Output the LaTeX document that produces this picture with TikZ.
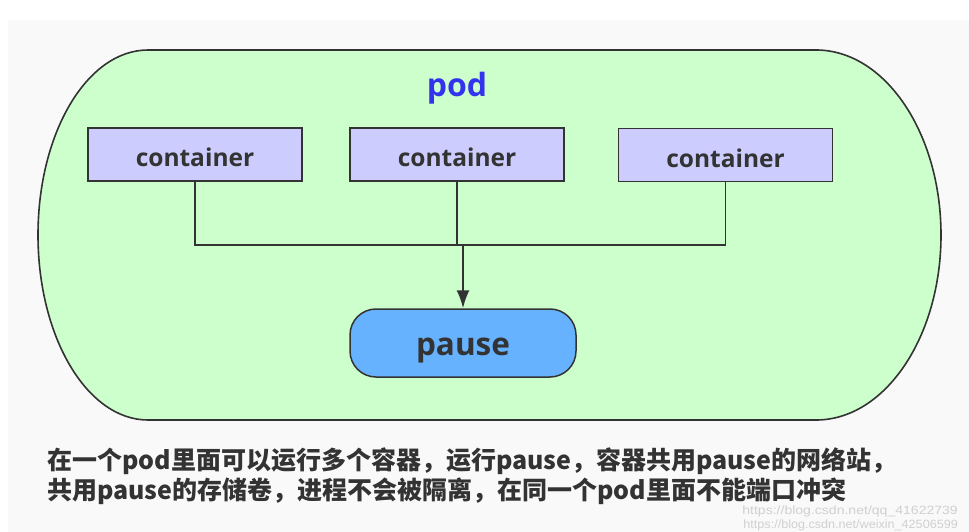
\documentclass[tikz,border=0pt]{standalone}
\usepackage{fontspec}
\setmainfont{Open Sans}
\newfontfamily\cjk{Noto Sans CJK SC}
\newfontfamily\wmfont{Liberation Sans}
\usetikzlibrary{arrows.meta}
\definecolor{bggray}{HTML}{F9F9F9}
\definecolor{podgreen}{HTML}{CCFFCC}
\definecolor{contblue}{HTML}{CCCCFF}
\definecolor{pauseblue}{HTML}{66B2FF}
\definecolor{edge}{HTML}{333333}
\definecolor{podtext}{HTML}{3333EE}
\definecolor{wm}{HTML}{D0D0D0}
\tikzset{
  contbox/.style={draw=edge, line width=1.5pt, fill=contblue, minimum width=214pt, minimum height=53pt, inner sep=0pt, text height=25pt, text depth=0pt, font=\fontsize{24.5}{28}\selectfont\bfseries, text=edge},
  pausebox/.style={draw=edge, line width=1.5pt, fill=pauseblue, rounded corners=26pt, minimum width=226pt, minimum height=68pt, inner sep=0pt, text height=24pt, text depth=0pt, font=\fontsize{31.5}{36}\selectfont\bfseries, text=edge},
  link/.style={draw=edge, line width=1.5pt},
  caption/.style={anchor=west, inner sep=0pt, text=edge, font=\cjk\fontsize{25}{29}\selectfont\bfseries},
  wmark/.style={anchor=east, inner sep=0pt, text=wm, font=\wmfont\fontsize{12}{14}\selectfont}
}
\begin{document}
\begin{tikzpicture}[x=1pt, y=-1pt]
  \useasboundingbox (0,0) rectangle (969,532);
  \fill[white] (0,0) rectangle (969,532);
  \fill[bggray] (8,20) rectangle (969,532);
  % pod shape
  \path[draw=edge, line width=1.6pt, fill=podgreen]
    (148,50) -- (816,50)
    .. controls (885,50) and (941,133) .. (941,235)
    .. controls (941,337) and (885,420) .. (816,420)
    -- (148,420)
    .. controls (87,420) and (38,337) .. (38,235)
    .. controls (38,133) and (87,50) .. (148,50) -- cycle;
  \node[anchor=base, inner sep=0pt, text=podtext, font=\fontsize{32}{36}\selectfont\bfseries] (podlabel) at (457,97) {pod};
  \node[contbox] (c1) at (195,154.5) {container};
  \node[contbox] (c2) at (457,154.5) {container};
  \node[contbox] (c3) at (725.5,155) {container};
  \node[pausebox] (pause) at (463,343) {pause};
  \coordinate (jL) at (195,245);
  \coordinate (jR) at (725.5,245);
  \coordinate (jM) at (463,245);
  \draw[link] (c1.south) -- (jL) -- (jR) -- (c3.south);
  \draw[link] (c2.south) -- (c2.south |- jM);
  \draw[link, line width=2pt, -{Latex[length=18pt, width=13pt]}] (jM) -- (pause.north);
  \node[caption] (cap1) at (47,461) {在一个pod里面可以运行多个容器，运行pause，容器共用pause的网络站，};
  \node[caption] (cap2) at (47,491) {共用pause的存储卷，进程不会被隔离，在同一个pod里面不能端口冲突};
  \node[wmark] (wm1) at (958,511) {\scalebox{1.17}[1]{https://blog.csdn.net/qq\_41622739}};
  \node[wmark] (wm2) at (958,525) {\scalebox{1.05}[1]{https://blog.csdn.net/weixin\_42506599}};
\end{tikzpicture}
\end{document}
